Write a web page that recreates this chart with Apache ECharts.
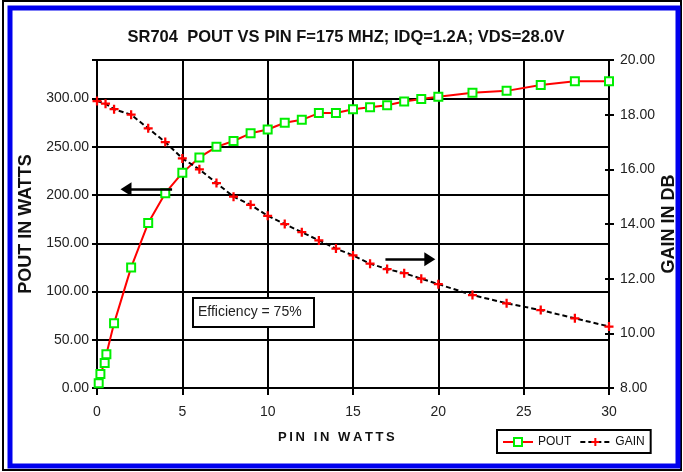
<!DOCTYPE html>
<html>
<head>
<meta charset="utf-8">
<script src="https://cdn.jsdelivr.net/npm/echarts@6/dist/echarts.min.js"></script>
<style>
  html, body { margin: 0; padding: 0; background: #fff; }
  #chart { width: 683px; height: 472px; }
</style>
</head>
<body>
<div id="chart"></div>
<script>
// SR704 Pout / Gain vs Pin

const pinPout = [0.1, 0.2, 0.45, 0.55, 1, 2, 3, 4, 5, 6, 7, 8, 9, 10, 11, 12, 13, 14, 15, 16, 17, 18, 19, 20, 22, 24, 26, 28, 30];
const poutWatts = [5, 14.5, 26, 35, 67, 125, 171, 202, 223, 239, 250, 256, 264, 268, 275, 278, 285, 285, 289, 291, 293, 297, 299.5, 302, 306, 308, 314, 318, 318];

const pinGain = [0, 0.5, 1, 2, 3, 4, 5, 6, 7, 8, 9, 10, 11, 12, 13, 14, 15, 16, 17, 18, 19, 20, 22, 24, 26, 28, 30];
const gainDb = [18.5, 18.4, 18.2, 18.0, 17.5, 17.0, 16.4, 16.0, 15.5, 15.0, 14.7, 14.3, 14.0, 13.7, 13.4, 13.1, 12.85, 12.55, 12.35, 12.2, 12.0, 11.8, 11.4, 11.1, 10.85, 10.55, 10.25];

const FONT = "'Liberation Sans', Arial, sans-serif";
const plus = 'path://M3,0H5V3H8V5H5V8H3V5H0V3H3Z';
// letter-spaced like the original axis title
const spaced = s => s.split('').join('\u2009');

const chart = echarts.init(document.getElementById('chart'));

chart.setOption({
  animation: false,
  backgroundColor: '#fff',
  title: {
    text: 'SR704  POUT VS PIN F=175 MHZ; IDQ=1.2A; VDS=28.0V',
    left: 341, top: 24, textAlign: 'center',
    textStyle: { fontFamily: FONT, fontSize: 16.5, fontWeight: 'bold', color: '#111' }
  },
  legend: {
    left: 497, top: 430,
    data: ['POUT', 'GAIN'],
    padding: [6, 6, 5, 5],
    borderColor: '#000', borderWidth: 2,
    itemWidth: 30, itemHeight: 10, itemGap: 8,
    textStyle: { fontFamily: FONT, fontSize: 12, color: '#111' }
  },
  grid: {
    left: 97, right: 74, top: 60, bottom: 84,
    outerBoundsMode: 'none',
    show: true, borderColor: '#000', borderWidth: 2
  },
  xAxis: {
    type: 'value', min: 0, max: 30, interval: 5,
    axisLine: { lineStyle: { color: '#000', width: 2 } },
    axisTick: { length: 7, lineStyle: { color: '#000', width: 2 } },
    axisLabel: { margin: 17, fontFamily: FONT, fontSize: 14, color: '#222' },
    splitLine: { show: true, lineStyle: { color: '#000', width: 2 } }
  },
  yAxis: [
    {
      type: 'value', min: 0, max: 340, interval: 50, position: 'left',
      name: 'POUT IN WATTS', nameLocation: 'middle', nameGap: 62, nameMoveOverlap: false,
      nameTextStyle: { fontFamily: FONT, fontSize: 18, fontWeight: 'bold', color: '#111' },
      axisLine: { show: true, lineStyle: { color: '#000', width: 2 } },
      axisTick: { show: true, length: 5, lineStyle: { color: '#000', width: 2 } },
      axisLabel: {
        margin: 8, fontFamily: FONT, fontSize: 14, color: '#222',
        formatter: v => (v % 50 === 0 ? v.toFixed(2) : '')
      },
      splitLine: { show: true, lineStyle: { color: '#000', width: 2 } }
    },
    {
      type: 'value', min: 8, max: 20, interval: 2, position: 'right',
      name: 'GAIN IN DB', nameLocation: 'middle', nameGap: 51, nameMoveOverlap: false,
      nameTextStyle: { fontFamily: FONT, fontSize: 18, fontWeight: 'bold', color: '#111' },
      axisLine: { show: true, lineStyle: { color: '#000', width: 2 } },
      axisTick: { show: true, length: 5, lineStyle: { color: '#000', width: 2 } },
      axisLabel: { margin: 11, fontFamily: FONT, fontSize: 14, color: '#222', formatter: v => v.toFixed(2) },
      splitLine: { show: false }
    },
    {
      // inner half of the crossing ticks on the gain axis
      type: 'value', min: 8, max: 20, interval: 2, position: 'right',
      axisLine: { show: false },
      axisTick: { show: true, inside: true, length: 4, lineStyle: { color: '#000', width: 2 } },
      axisLabel: { show: false },
      splitLine: { show: false }
    }
  ],
  series: [
    {
      name: 'POUT', type: 'line', yAxisIndex: 0,
      data: pinPout.map((x, i) => [x, poutWatts[i]]),
      symbol: 'rect', symbolSize: 8,
      lineStyle: { color: '#ff0000', width: 2 },
      itemStyle: { color: '#ffffff', borderColor: '#00ee00', borderWidth: 2 },
      markLine: {
        silent: true,
        symbol: ['none', 'triangle'],
        symbolSize: [14, 11],
        label: { show: false },
        lineStyle: { color: '#000', width: 2.5, type: 'solid' },
        data: [
          [{ coord: [4.4, 206] }, { coord: [1.7, 206] }],
          [{ coord: [16.9, 133.5] }, { coord: [19.5, 133.5] }]
        ]
      }
    },
    {
      name: 'GAIN', type: 'line', yAxisIndex: 1,
      data: pinGain.map((x, i) => [x, gainDb[i]]),
      symbol: plus, symbolSize: 9,
      lineStyle: { color: '#000', width: 2, type: [5, 3] },
      itemStyle: { color: '#ff0000', borderWidth: 0 }
    }
  ],
  graphic: [
    {
      type: 'rect', silent: true,
      shape: { x: 3, y: 1, width: 678, height: 469 },
      style: { fill: 'none', stroke: '#000', lineWidth: 2 }
    },
    {
      type: 'rect', silent: true,
      shape: { x: 10, y: 8, width: 668, height: 458 },
      style: { fill: 'none', stroke: '#0000ee', lineWidth: 5 }
    },
    {
      type: 'text', silent: true, left: 278, top: 431,
      style: { text: spaced('PIN IN WATTS'), fontFamily: FONT, fontSize: 13, fontWeight: 'bold', fill: '#111' }
    },
    {
      type: 'group', left: 192, top: 297, silent: true, z: 100,
      children: [
        { type: 'rect', z: 100, shape: { x: 0, y: 0, width: 121, height: 29 }, style: { fill: '#fff', stroke: '#000', lineWidth: 2 } },
        { type: 'text', z: 101, x: 5, y: 7, style: { text: 'Efficiency = 75%', fontFamily: FONT, fontSize: 14, fill: '#222' } }
      ]
    }
  ]
});
</script>
</body>
</html>
